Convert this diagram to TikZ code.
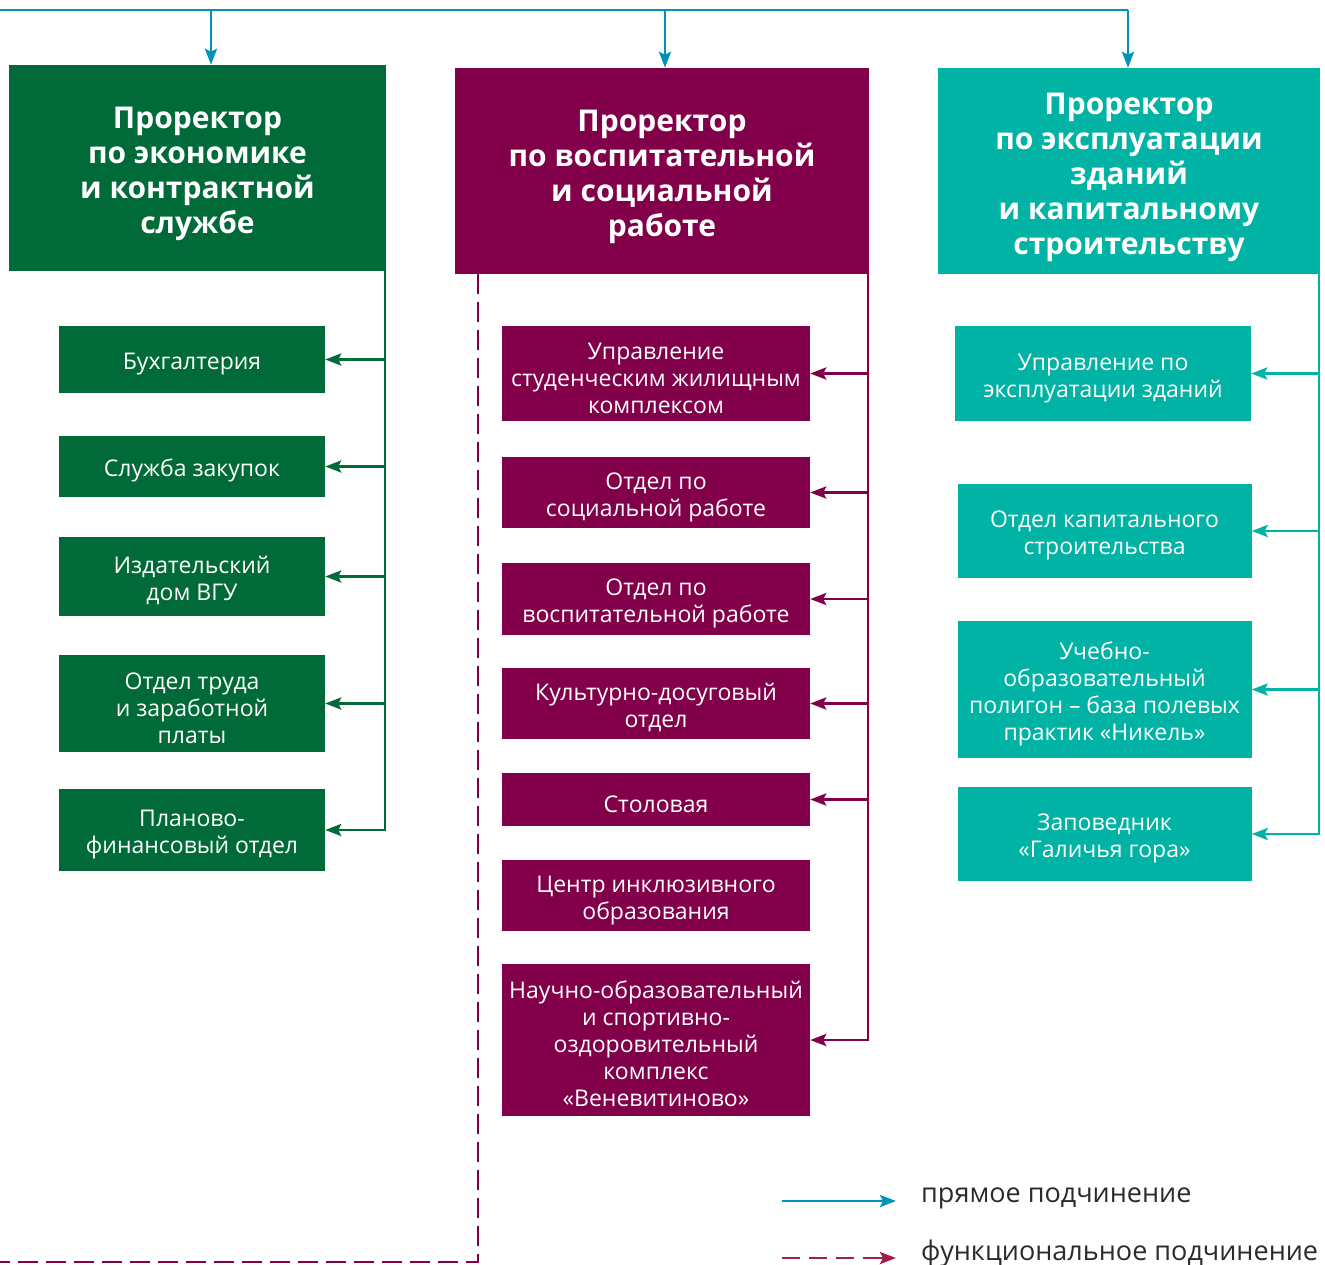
\documentclass[tikz,border=0pt]{standalone}
\usepackage{fontspec}
\setmainfont{Open Sans}
\usetikzlibrary{arrows.meta}
\definecolor{vgugreen}{HTML}{006B38}
\definecolor{vguwine}{HTML}{82004A}
\definecolor{vguteal}{HTML}{00B3A4}
\definecolor{vgublue}{HTML}{0092B8}
\definecolor{legwine}{HTML}{A01E4C}
\definecolor{legtext}{HTML}{2B2B2B}
% struts that push the text a little below the box centre
\newcommand{\headlift}{\rule{0pt}{34pt}}
\newcommand{\boxlift}{\rule{0pt}{26pt}}
\tikzset{
  head/.style={rectangle, inner sep=0pt, text=white, align=center,
    font=\fontsize{30}{35}\selectfont\bfseries},
  unit/.style={rectangle, inner sep=0pt, text=white, align=center,
    font=\fontsize{23}{27}\selectfont},
  link/.style={-{Stealth[length=16pt,width=12pt,inset=3pt]}, line width=2.8pt},
  funclink/.style={line width=2.8pt, dash pattern=on 20pt off 8pt},
  legendtext/.style={anchor=west, inner sep=0pt, text=legtext,
    font=\fontsize{27}{32}\selectfont}
}

\begin{document}
\begin{tikzpicture}[x=1pt, y=-1pt]
  \useasboundingbox (0,0) rectangle (1325,1264);

  % prorectors
  \node[head, fill=vgugreen, minimum width=377pt, minimum height=206pt] (econ) at (197.5,168)
    {\headlift Проректор\\по экономике\\и контрактной\\службе};
  \node[head, fill=vguwine, minimum width=414pt, minimum height=206pt] (vosp) at (662,171)
    {\headlift Проректор\\по воспитательной\\и социальной\\работе};
  \node[head, fill=vguteal, minimum width=382pt, minimum height=206pt] (build) at (1129,171)
    {\headlift Проректор\\по эксплуатации\\зданий\\и капитальному\\строительству};

  % economics units
  \begin{scope}[every node/.style={unit, fill=vgugreen, minimum width=266pt}]
    \node[minimum height=67pt] (buh) at (192,359.5) {\boxlift Бухгалтерия};
    \node[minimum height=61pt] (zak) at (192,466.5) {\boxlift Служба закупок};
    \node[minimum height=79pt] (izd) at (192,576.5) {\boxlift Издательский\\дом ВГУ};
    \node[minimum height=97pt] (trud) at (192,703.5) {\boxlift Отдел труда\\и заработной\\платы};
    \node[minimum height=82pt] (plan) at (192,830) {\boxlift Планово-\\финансовый отдел};
  \end{scope}

  % social units
  \begin{scope}[every node/.style={unit, fill=vguwine, minimum width=308pt}]
    \node[minimum height=95pt] (zhil) at (656,373.5) {\boxlift Управление\\студенческим жилищным\\комплексом};
    \node[minimum height=71pt] (soc) at (656,492.5) {\boxlift Отдел по\\социальной работе};
    \node[minimum height=72pt] (vosr) at (656,599) {\boxlift Отдел по\\воспитательной работе};
    \node[minimum height=71pt] (kult) at (656,703.5) {\boxlift Культурно-досуговый\\отдел};
    \node[minimum height=53pt] (stol) at (656,799.5) {\boxlift Столовая};
    \node[minimum height=71pt] (incl) at (656,895.5) {\boxlift Центр инклюзивного\\образования};
    \node[minimum height=152pt] (ven) at (656,1040) {\boxlift Научно-образовательный\\и спортивно-\\оздоровительный\\комплекс\\«Веневитиново»};
  \end{scope}

  % building units
  \begin{scope}[every node/.style={unit, fill=vguteal, minimum width=294pt}]
    \node[minimum width=296pt, minimum height=95pt] (ekspl) at (1103,373.5) {\boxlift Управление по\\эксплуатации зданий};
    \node[minimum height=94pt] (kap) at (1104.5,531) {\boxlift Отдел капитального\\строительства};
    \node[minimum height=137pt] (pol) at (1104.5,689.5) {\boxlift Учебно-\\образовательный\\полигон – база полевых\\практик «Никель»};
    \node[minimum height=94pt] (zap) at (1104.5,834) {\boxlift Заповедник\\«Галичья гора»};
  \end{scope}

  % direct subordination from the rector
  \coordinate (topL) at (0,10);
  \coordinate (topR) at (1128,10);
  \coordinate (drop1) at (211,10);
  \coordinate (drop2) at (665,10);
  \draw[vgublue, line width=2.8pt] (topL) -- (topR);
  \draw[link, vgublue] (drop1) -- (drop1 |- econ.north);
  \draw[link, vgublue] (drop2) -- (drop2 |- vosp.north);
  \draw[link, vgublue] (topR) -- (topR |- build.north);

  % economics bus
  \coordinate (gbus) at (385,271);
  \draw[link, vgugreen] (gbus) |- (plan.east);
  \foreach \u in {buh,zak,izd,trud}
    \draw[link, vgugreen] (gbus |- \u.east) -- (\u.east);

  % social bus
  \coordinate (wbus) at (868,274);
  \draw[link, vguwine] (wbus) |- (ven.east);
  \foreach \u in {zhil,soc,vosr,kult,stol}
    \draw[link, vguwine] (wbus |- \u.east) -- (\u.east);

  % building bus
  \coordinate (tbus) at (1319,274);
  \draw[link, vguteal] (tbus) |- (zap.east);
  \foreach \u in {ekspl,kap,pol}
    \draw[link, vguteal] (tbus |- \u.east) -- (\u.east);

  % functional subordination
  \coordinate (ftop) at (478,274);
  \coordinate (fcorner) at (478,1262);
  \coordinate (fend) at (0,1262);
  \draw[funclink, vguwine] (ftop) -- (fcorner) -- (fend);

  % legend
  \coordinate (leg1a) at (782,1201);
  \coordinate (leg1b) at (896,1201);
  \coordinate (leg2a) at (782,1258);
  \coordinate (leg2m) at (876,1258);
  \coordinate (leg2b) at (896,1258);
  \draw[link, vgublue] (leg1a) -- (leg1b);
  \draw[legwine, line width=2.8pt, dash pattern=on 18pt off 9pt] (leg2a) -- (leg2m);
  \draw[link, legwine] (leg2m) -- (leg2b);
  \node[legendtext] (leg1t) at (921,1198) {прямое подчинение};
  \node[legendtext] (leg2t) at (921,1253) {функциональное подчинение};
\end{tikzpicture}
\end{document}
